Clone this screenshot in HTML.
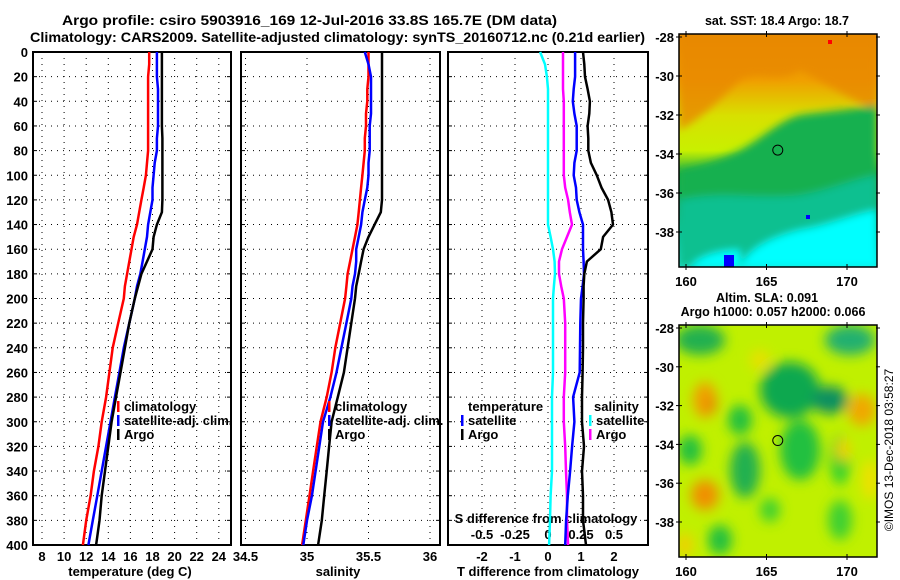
<!DOCTYPE html>
<html><head><meta charset="utf-8"><style>
html,body{margin:0;padding:0;background:#fff;}
svg{display:block;font-family:"Liberation Sans",sans-serif;font-weight:bold;}
</style></head><body>
<svg id="c" width="900" height="580" viewBox="0 0 900 580" xmlns="http://www.w3.org/2000/svg">
<defs>
<filter id="blur1" x="-20%" y="-20%" width="140%" height="140%"><feGaussianBlur stdDeviation="6"/></filter>
<filter id="blur2" x="-20%" y="-20%" width="140%" height="140%"><feGaussianBlur stdDeviation="4"/></filter>
<clipPath id="m1clip"><rect x="679" y="34" width="198" height="233"/></clipPath>
<clipPath id="m2clip"><rect x="679" y="325" width="198" height="232"/></clipPath>
<linearGradient id="sstg" x1="0" y1="0" x2="0" y2="1">
<stop offset="0" stop-color="#e88a00"/><stop offset="0.2" stop-color="#f0a000"/><stop offset="0.35" stop-color="#d8e000"/>
<stop offset="0.5" stop-color="#c8f000"/><stop offset="0.6" stop-color="#20b040"/><stop offset="0.75" stop-color="#10b070"/>
<stop offset="0.87" stop-color="#00c8a0"/><stop offset="1" stop-color="#20e0d0"/></linearGradient>
</defs>
<text x="62" y="25" font-size="14" textLength="495" lengthAdjust="spacingAndGlyphs">Argo profile: csiro 5903916_169 12-Jul-2016 33.8S 165.7E (DM data)</text>
<text x="30" y="42" font-size="14" textLength="615" lengthAdjust="spacingAndGlyphs">Climatology: CARS2009. Satellite-adjusted climatology: synTS_20160712.nc (0.21d earlier)</text>
<g id="plots"></g>
<g id="maps"></g>
<text transform="translate(893,450) rotate(-90)" font-size="12" font-weight="normal" text-anchor="middle">©IMOS 13-Dec-2018 03:58:27</text>
</svg>
<script>
const NS="http://www.w3.org/2000/svg";
const depths=[0,10,20,30,40,50,60,70,80,90,100,110,120,130,140,150,160,170,180,190,200,220,240,260,280,300,320,340,360,380,400];
const tClim=[17.7,17.7,17.6,17.6,17.6,17.6,17.6,17.6,17.6,17.5,17.4,17.2,17.0,16.8,16.6,16.3,16.1,15.9,15.7,15.5,15.4,14.9,14.4,14.1,13.8,13.4,13.1,12.7,12.4,12.0,11.7];
const tSat=[18.4,18.4,18.4,18.5,18.5,18.5,18.5,18.4,18.4,18.2,18.1,18.0,18.0,17.8,17.6,17.5,17.3,17.1,16.9,16.6,16.4,15.9,15.4,15.0,14.6,14.2,13.8,13.4,13.0,12.6,12.2];
const tArgo=[18.85,18.85,18.85,18.85,18.85,18.85,18.85,18.9,18.9,18.9,18.9,18.9,18.9,18.85,18.4,18.1,18.0,17.5,17.0,16.7,16.4,15.9,15.5,15.1,14.7,14.3,14.0,13.7,13.4,13.2,12.9];
const sClim=[35.5,35.5,35.5,35.49,35.49,35.48,35.48,35.47,35.47,35.46,35.45,35.44,35.43,35.42,35.41,35.39,35.37,35.35,35.33,35.32,35.31,35.27,35.23,35.2,35.16,35.11,35.08,35.05,35.02,34.99,34.96];
const sSat=[35.47,35.5,35.52,35.52,35.52,35.52,35.51,35.51,35.51,35.5,35.5,35.49,35.47,35.45,35.44,35.42,35.4,35.4,35.39,35.37,35.36,35.32,35.28,35.24,35.19,35.13,35.1,35.07,35.04,35.0,34.97];
const sArgo=[35.61,35.61,35.61,35.61,35.61,35.61,35.61,35.61,35.61,35.61,35.61,35.61,35.61,35.6,35.55,35.5,35.46,35.44,35.42,35.4,35.39,35.36,35.33,35.3,35.25,35.2,35.18,35.16,35.14,35.12,35.09];
const dTSat=[0.82,0.82,0.82,0.78,0.75,0.8,0.87,0.87,0.87,0.8,0.78,0.85,0.87,0.95,1.06,1.06,1.06,1.08,1.09,1.05,1.0,0.98,0.97,0.96,0.76,0.8,0.73,0.67,0.6,0.55,0.52];
const dTArgo=[1.06,1.1,1.12,1.2,1.27,1.25,1.2,1.22,1.22,1.3,1.48,1.62,1.82,1.92,1.97,1.67,1.6,1.18,1.1,1.08,1.08,1.06,1.06,1.05,1.03,1.03,1.09,1.03,1.06,1.06,1.15];
const dSArgo=[0.114,0.114,0.114,0.114,0.12,0.12,0.12,0.12,0.12,0.12,0.12,0.13,0.152,0.165,0.182,0.144,0.106,0.083,0.083,0.1,0.12,0.13,0.13,0.13,0.12,0.12,0.13,0.136,0.144,0.144,0.152];
const dSSat=[-0.06,-0.023,-0.008,0,0,0,0,0,0,0,0,0,0,0,0,0.02,0.038,0.05,0.053,0.045,0.038,0.038,0.038,0.038,0.03,0.03,0.03,0.03,0.02,0.015,0.008];
const depthTicks=[0,20,40,60,80,100,120,140,160,180,200,220,240,260,280,300,320,340,360,380,400];
const tTicks=[8,10,12,14,16,18,20,22,24];
const sTicks=[34.5,35,35.5,36];
const dTTicks=[-2,-1,0,1,2];
const dSTicks=[-0.5,-0.25,0,0.25,0.5];

const TOP=52,BOT=545;
const yD=d=>TOP+(BOT-TOP)*d/400;
const xT=v=>42+(v-8)*11.05;
const xS=v=>307+(v-35)*123;
const xDT=v=>548+v*33;
const xDS=v=>548+v*132;
const g=document.getElementById('plots');
function el(tag,attrs,parent){const e=document.createElementNS(NS,tag);for(const k in attrs)e.setAttribute(k,attrs[k]);(parent||g).appendChild(e);return e;}
function txt(x,y,s,size,anchor,parent){const t=el('text',{x:x,y:y,'font-size':size,'text-anchor':anchor||'middle'},parent);t.textContent=s;return t;}

const panels=[{x0:33,x1:231,name:'temperature'},{x0:241,x1:440,name:'salinity'},{x0:448,x1:648,name:'difference'}];
const xGrids=[tTicks.map(xT),sTicks.map(xS),dTTicks.map(xDT)];
panels.forEach((p,i)=>{
  const pg=el('g',{});
  
  
  depthTicks.forEach(d=>{
    const l=el('line',{x1:p.x0,x2:p.x1,y1:yD(d),y2:yD(d),stroke:'#000','stroke-width':1,'stroke-dasharray':'1,5'},pg);
    
    
    el('line',{x1:p.x0,x2:p.x0+4,y1:yD(d),y2:yD(d),stroke:'#000'},pg);
    el('line',{x1:p.x1-4,x2:p.x1,y1:yD(d),y2:yD(d),stroke:'#000'},pg);
  });
  xGrids[i].forEach(x=>{
    const l=el('line',{x1:x,x2:x,y1:TOP,y2:BOT,stroke:'#000','stroke-width':1,'stroke-dasharray':'1,5'},pg);
    
    
  });
  const r=el('rect',{x:p.x0,y:TOP,width:p.x1-p.x0,height:BOT-TOP,fill:'none',stroke:'#000','stroke-width':2},pg);
  
  
});
depthTicks.forEach(d=>{const t=txt(28,yD(d)+5,String(d),13,'end');
  
  });
tTicks.forEach(v=>{const t=txt(xT(v),561,String(v),13);
  
  });
sTicks.forEach(v=>{const t=txt(xS(v),561,String(v),13);
  
  });
dTTicks.forEach(v=>{const t=txt(xDT(v),561,String(v),13);
  
  });
dSTicks.forEach(v=>{const t=txt(xDS(v),539,String(v),13);
  
  });
let t;
t=txt(130,576,'temperature (deg C)',13);
t=txt(338,576,'salinity',13);
t=txt(548,576,'T difference from climatology',13);
t=txt(546,523,'S difference from climatology',13);

function series(vals,xf,color,w,name){
  const pts=vals.map((v,i)=>xf(v).toFixed(1)+','+yD(depths[i]).toFixed(1)).join(' ');
  const pl=el('polyline',{points:pts,fill:'none',stroke:color,'stroke-width':w,'stroke-linejoin':'round'});
  
  
}
series(tClim,xT,'#ff0000',2.5,'temperature-climatology-line');
series(tSat,xT,'#0000ff',2.5,'temperature-satellite-line');
series(tArgo,xT,'#000',2.5,'temperature-argo-line');
series(sClim,xS,'#ff0000',2.5,'salinity-climatology-line');
series(sSat,xS,'#0000ff',2.5,'salinity-satellite-line');
series(sArgo,xS,'#000',2.5,'salinity-argo-line');
series(dSSat,xDS,'#00ffff',2.5,'s-diff-satellite-line');
series(dSArgo,xDS,'#ff00ff',2.5,'s-diff-argo-line');
series(dTSat,xDT,'#0000ff',2.5,'t-diff-satellite-line');
series(dTArgo,xDT,'#000',2.5,'t-diff-argo-line');

function legend(x,y,color,label){
  el('rect',{x:x,y:y-10,width:2.5,height:11,fill:color});
  const t=txt(x+7,y,label,13,'start');
  
  
}
legend(117,411,'#ff0000','climatology');legend(117,425,'#0000ff','satellite-adj. clim.');legend(117,439,'#000','Argo');
legend(328,411,'#ff0000','climatology');legend(328,425,'#0000ff','satellite-adj. clim.');legend(328,439,'#000','Argo');
t=txt(468,411,'temperature',13,'start');
t=txt(594,411,'salinity',13,'start');
legend(461,425,'#0000ff','satellite');legend(461,439,'#000','Argo');
legend(589,425,'#00ffff','satellite');legend(589,439,'#ff00ff','Argo');

/* maps */
const mg=document.getElementById('maps');
const mapLatTicks=[-28,-30,-32,-34,-36,-38];
const mapLonTicks=[160,165,170];
const lonX=lon=>686+(lon-160)*16.1;
const map1Y=lat=>37+(-28-lat)*19.5;
const map2Y=lat=>328+(-28-lat)*19.4;
function mapFrame(top,bot,yf,name){
  const r=el('rect',{x:679,y:top,width:198,height:bot-top,fill:'none',stroke:'#000','stroke-width':1.5},mg);
  
  
  mapLatTicks.forEach(l=>{
    el('line',{x1:876,x2:880,y1:yf(l),y2:yf(l),stroke:'#000'},mg);
    el('line',{x1:676,x2:682,y1:yf(l),y2:yf(l),stroke:'#000'},mg);
    const t=txt(674,yf(l)+5,String(l),13,'end',mg);
    
    });
  mapLonTicks.forEach(l=>{el('line',{x1:lonX(l),x2:lonX(l),y1:top-3,y2:top+3,stroke:'#000'},mg);
    el('line',{x1:lonX(l),x2:lonX(l),y1:bot-3,y2:bot+3,stroke:'#000'},mg);
    const t=txt(lonX(l),bot+19,String(l),13,'middle',mg);
    
    });
}
// Map 1 SST
const m1=el('g',{'clip-path':'url(#m1clip)'},mg);


el('rect',{x:679,y:34,width:198,height:233,fill:'url(#sstg)'},m1);
const f1=el('g',{filter:'url(#blur2)'},m1);
el('path',{d:'M679,34 H877 V110 C850,100 820,80 800,70 C780,85 760,70 740,80 C720,100 700,120 679,130 Z',fill:'#e88800',opacity:0.8},f1);
el('path',{d:'M679,170 C700,165 720,160 740,150 C760,140 780,120 800,115 C820,112 850,110 877,105 V267 H679 Z',fill:'#18b050'},f1);
el('path',{d:'M679,200 C720,190 760,200 800,195 C830,190 850,180 877,175 V267 H679 Z',fill:'#10c090'},f1);
el('path',{d:'M740,267 C750,245 780,235 800,230 C830,225 850,215 877,210 V267 Z',fill:'#00ffff'},f1);
el('path',{d:'M690,267 C700,255 720,250 740,250 L740,267 Z',fill:'#00ffff'},f1);
el('rect',{x:828,y:40,width:4,height:4,fill:'#ff0000'},m1);
el('rect',{x:806,y:215,width:4,height:4,fill:'#0000ff'},m1);
el('rect',{x:724,y:255,width:10,height:12,fill:'#0000ff'},m1);
const c1=el('circle',{cx:lonX(165.7),cy:map1Y(-33.8),r:5,fill:'none',stroke:'#000','stroke-width':1},mg);


mapFrame(34,267,map1Y,'sst-map');
t=txt(777,25,'sat. SST: 18.4 Argo: 18.7',12.5,'middle',mg);
// Map 2 SLA
const m2=el('g',{'clip-path':'url(#m2clip)'},mg);


el('rect',{x:679,y:325,width:198,height:232,fill:'#c0f000'},m2);
const f2=el('g',{filter:'url(#blur1)'},m2);
[[700,340,25,15,'#20b050'],[850,340,25,15,'#20b070'],[790,390,30,28,'#10a850'],[830,400,18,14,'#109060'],
 [740,420,12,15,'#20c040'],[690,450,12,15,'#20c040'],[745,470,15,28,'#20b050'],[800,450,20,30,'#20c040'],
 [840,460,10,25,'#30d030'],[720,540,12,15,'#20c040'],[770,510,10,12,'#40d030'],[840,520,12,20,'#40d030'],
 [705,400,12,18,'#f0a000'],[711,405,6,8,'#e88800'],[705,495,14,15,'#f09000'],[862,410,14,16,'#f0a800'],
 [843,450,7,12,'#f0d000'],[760,360,10,10,'#e8e000'],[870,480,8,20,'#f0e000'],[685,545,8,12,'#f0d000']
].forEach(b=>{el('ellipse',{cx:b[0],cy:b[1],rx:b[2],ry:b[3],fill:b[4]},f2);});
const c2=el('circle',{cx:lonX(165.7),cy:map2Y(-33.8),r:5,fill:'none',stroke:'#000','stroke-width':1},mg);


mapFrame(325,557,map2Y,'sla-map');
t=txt(767,302,'Altim. SLA: 0.091',12.5,'middle',mg);
t=txt(773,316,'Argo h1000: 0.057 h2000: 0.066',12.5,'middle',mg);
</script>
</body></html>
